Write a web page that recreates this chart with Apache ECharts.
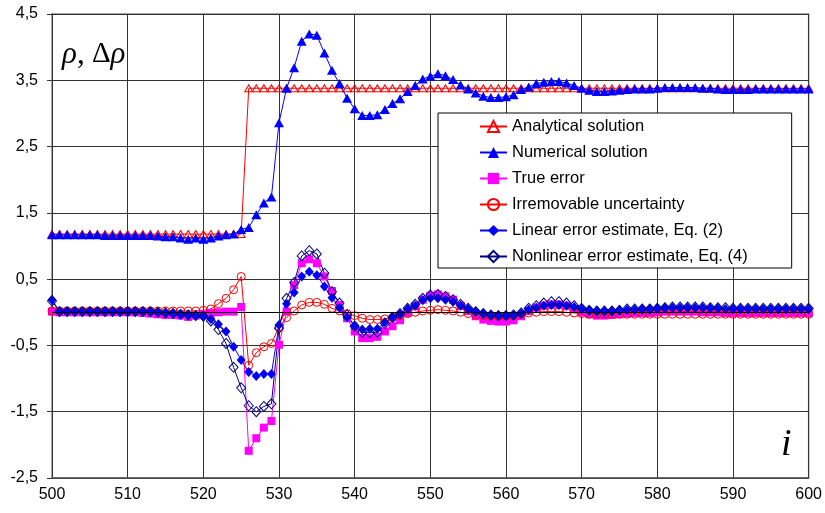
<!DOCTYPE html>
<html>
<head>
    <meta charset="utf-8">
    <title>ECharts</title>
    <script src="https://cdn.jsdelivr.net/npm/echarts@6/dist/echarts.min.js"></script>
    <style>
        body { margin: 0; background: #fff; }
    </style>
</head>
<body>
    <div id="main" style="width: 825px;height:513px;"></div>
    <script type="text/javascript">
        // i runs 500..600, one value per step
        var iStart = 500;

        var analytical = [
            1.18, 1.18, 1.18, 1.18, 1.18, 1.18, 1.18, 1.18, 1.18, 1.18,
            1.18, 1.18, 1.18, 1.18, 1.18, 1.18, 1.18, 1.18, 1.18, 1.18,
            1.18, 1.18, 1.18, 1.18, 1.18, 1.18, 3.38, 3.38, 3.38, 3.38,
            3.38, 3.38, 3.38, 3.38, 3.38, 3.38, 3.38, 3.38, 3.38, 3.38,
            3.38, 3.38, 3.38, 3.38, 3.38, 3.38, 3.38, 3.38, 3.38, 3.38,
            3.38, 3.38, 3.38, 3.38, 3.38, 3.38, 3.38, 3.38, 3.38, 3.38,
            3.38, 3.38, 3.38, 3.38, 3.38, 3.38, 3.38, 3.38, 3.38, 3.38,
            3.38, 3.38, 3.38, 3.38, 3.38, 3.38, 3.38, 3.38, 3.38, 3.38,
            3.38, 3.38, 3.38, 3.38, 3.38, 3.38, 3.38, 3.38, 3.38, 3.38,
            3.38, 3.38, 3.38, 3.38, 3.38, 3.38, 3.38, 3.38, 3.38, 3.38,
            3.38
        ];

        var numerical = [
            1.17, 1.17, 1.17, 1.17, 1.17, 1.17, 1.17, 1.16, 1.16, 1.16,
            1.16, 1.16, 1.16, 1.16, 1.15, 1.14, 1.14, 1.12, 1.10, 1.12,
            1.10, 1.12, 1.15, 1.17, 1.18, 1.25, 1.28, 1.47, 1.65, 1.74,
            2.86, 3.38, 3.69, 4.09, 4.20, 4.18, 3.91, 3.65, 3.45, 3.23,
            3.07, 2.97, 2.97, 2.98, 3.06, 3.15, 3.22, 3.33, 3.42, 3.52,
            3.56, 3.60, 3.57, 3.51, 3.43, 3.37, 3.31, 3.26, 3.24, 3.24,
            3.25, 3.28, 3.36, 3.40, 3.45, 3.47, 3.48, 3.48, 3.46, 3.42,
            3.38, 3.35, 3.33, 3.33, 3.34, 3.35, 3.36, 3.37, 3.37, 3.37,
            3.38, 3.39, 3.39, 3.39, 3.39, 3.39, 3.38, 3.38, 3.37, 3.36,
            3.36, 3.36, 3.36, 3.37, 3.37, 3.37, 3.37, 3.37, 3.37, 3.37,
            3.37
        ];

        var trueError = [
            0.01, 0.00, 0.00, 0.00, 0.00, 0.00, 0.00, 0.00, 0.00, 0.00,
            0.00, 0.00, -0.01, -0.02, -0.03, -0.04, -0.04, -0.05, -0.07, -0.05,
            -0.03, -0.01, 0.00, 0.01, 0.01, 0.08, -2.09, -1.90, -1.74, -1.64,
            -0.49, 0.01, 0.41, 0.74, 0.80, 0.74, 0.54, 0.32, 0.11, -0.09,
            -0.29, -0.39, -0.39, -0.37, -0.29, -0.21, -0.12, -0.01, 0.09, 0.19,
            0.25, 0.27, 0.24, 0.19, 0.10, 0.02, -0.06, -0.11, -0.13, -0.14,
            -0.14, -0.12, -0.06, 0.02, 0.07, 0.10, 0.12, 0.12, 0.10, 0.05,
            0.00, -0.03, -0.05, -0.05, -0.04, -0.03, -0.02, -0.01, -0.01, -0.01,
            0.00, 0.01, 0.01, 0.01, 0.01, 0.01, 0.00, 0.00, 0.00, -0.01,
            -0.01, -0.01, -0.01, -0.01, -0.01, -0.01, -0.01, -0.01, -0.01, -0.01,
            -0.01
        ];

        var irremovable = [
            0.02, 0.02, 0.02, 0.02, 0.02, 0.02, 0.02, 0.02, 0.02, 0.02,
            0.02, 0.02, 0.02, 0.02, 0.02, 0.02, 0.02, 0.02, 0.02, 0.02,
            0.03, 0.05, 0.13, 0.21, 0.34, 0.54, -0.80, -0.61, -0.52, -0.47,
            -0.22, -0.08, 0.02, 0.11, 0.15, 0.15, 0.12, 0.06, 0.02, -0.02,
            -0.05, -0.09, -0.11, -0.11, -0.10, -0.08, -0.05, -0.02, 0.00, 0.02,
            0.03, 0.04, 0.03, 0.02, 0.00, -0.02, -0.04, -0.05, -0.06, -0.06,
            -0.06, -0.05, -0.03, -0.01, 0.00, 0.01, 0.01, 0.01, 0.00, -0.01,
            -0.02, -0.03, -0.03, -0.03, -0.03, -0.03, -0.03, -0.03, -0.03, -0.03,
            -0.03, -0.03, -0.03, -0.03, -0.03, -0.03, -0.03, -0.03, -0.03, -0.03,
            -0.03, -0.03, -0.03, -0.03, -0.03, -0.03, -0.03, -0.03, -0.03, -0.03,
            -0.03
        ];

        var linearEst = [
            0.19, 0.01, 0.01, 0.01, 0.01, 0.01, 0.01, 0.01, 0.01, 0.01,
            0.01, 0.01, 0.01, 0.01, 0.00, -0.01, -0.02, -0.03, -0.04, -0.05,
            -0.06, -0.10, -0.18, -0.29, -0.52, -0.72, -0.90, -0.96, -0.93, -0.93,
            -0.19, 0.13, 0.30, 0.54, 0.61, 0.56, 0.39, 0.22, 0.07, -0.08,
            -0.20, -0.26, -0.25, -0.25, -0.15, -0.07, -0.03, 0.05, 0.10, 0.18,
            0.21, 0.21, 0.19, 0.16, 0.10, 0.05, 0.01, -0.02, -0.04, -0.05,
            -0.05, -0.04, -0.02, 0.04, 0.07, 0.10, 0.11, 0.11, 0.10, 0.08,
            0.05, 0.03, 0.02, 0.02, 0.02, 0.03, 0.04, 0.04, 0.05, 0.05,
            0.06, 0.07, 0.07, 0.07, 0.07, 0.07, 0.07, 0.06, 0.06, 0.05,
            0.05, 0.05, 0.05, 0.05, 0.05, 0.05, 0.05, 0.05, 0.05, 0.05,
            0.05
        ];

        var nonlinearEst = [
            0.17, 0.01, 0.01, 0.01, 0.01, 0.01, 0.01, 0.01, 0.01, 0.01,
            0.01, 0.01, 0.01, 0.01, 0.00, -0.01, -0.02, -0.03, -0.04, -0.05,
            -0.06, -0.13, -0.26, -0.47, -0.83, -1.14, -1.41, -1.50, -1.42, -1.38,
            -0.24, 0.21, 0.45, 0.85, 0.93, 0.88, 0.59, 0.31, 0.14, -0.04,
            -0.21, -0.30, -0.31, -0.30, -0.17, -0.08, -0.02, 0.06, 0.12, 0.21,
            0.26, 0.27, 0.24, 0.19, 0.12, 0.06, 0.01, -0.02, -0.04, -0.05,
            -0.05, -0.04, -0.01, 0.06, 0.10, 0.14, 0.16, 0.16, 0.14, 0.10,
            0.06, 0.03, 0.02, 0.02, 0.02, 0.03, 0.05, 0.05, 0.05, 0.05,
            0.06, 0.07, 0.08, 0.08, 0.08, 0.08, 0.08, 0.07, 0.07, 0.07,
            0.06, 0.06, 0.06, 0.06, 0.06, 0.06, 0.06, 0.06, 0.06, 0.06,
            0.06
        ];

        var seriesNames = [
            'Analytical solution',
            'Numerical solution',
            'True error',
            'Irremovable uncertainty',
            'Linear error estimate, Eq. (2)',
            'Nonlinear error estimate, Eq. (4)'
        ];

        function pairs(values) {
            return values.map(function (v, k) { return [iStart + k, v]; });
        }

        function lineSeries(name, values, color, symbol, size, hollow) {
            return {
                name: name,
                type: 'line',
                data: pairs(values),
                symbol: symbol,
                symbolSize: size,
                showAllSymbol: true,
                lineStyle: { color: color, width: 1 },
                itemStyle: hollow
                    ? { color: 'rgba(255,255,255,0)', borderColor: color, borderWidth: 1 }
                    : { color: color, borderColor: color, borderWidth: 0 },
                emphasis: { disabled: true },
                silent: true
            };
        }

        var myChart = echarts.init(document.getElementById('main'));

        var series = [
            lineSeries(seriesNames[0], analytical, '#ff0000', 'triangle', [8, 7], true),
            lineSeries(seriesNames[1], numerical, '#0000ff', 'triangle', [10, 9], false),
            lineSeries(seriesNames[2], trueError, '#ff00ff', 'rect', 8, false),
            lineSeries(seriesNames[3], irremovable, '#ff0000', 'circle', 8, true),
            lineSeries(seriesNames[4], linearEst, '#0000ff', 'diamond', [9, 10], false),
            lineSeries(seriesNames[5], nonlinearEst, '#000080', 'diamond', [9, 10], true)
        ];

        // horizontal line at zero (the category axis crossing)
        series[0].markLine = {
            silent: true,
            symbol: 'none',
            label: { show: false },
            lineStyle: { color: '#000', width: 1, type: 'solid' },
            data: [{ yAxis: 0 }]
        };
        series[0].z = 1;

        var option = {
            animation: false,
            title: [{
                text: '{g|\u03c1}{n|,}{d| \u0394}{g|\u03c1}',
                left: 57,
                top: 34,
                textStyle: {
                    fontWeight: 'normal',
                    rich: {
                        g: { fontFamily: 'Liberation Serif', fontStyle: 'italic', fontWeight: 'normal', fontSize: 31, color: '#000' },
                        n: { fontFamily: 'Liberation Serif', fontWeight: 'normal', fontSize: 31, color: '#000' },
                        d: { fontFamily: 'Liberation Serif', fontWeight: 'normal', fontSize: 29, color: '#000' }
                    }
                }
            }, {
                text: 'i',
                left: 776,
                top: 421,
                textStyle: { fontFamily: 'Liberation Serif', fontStyle: 'italic', fontWeight: 'normal', fontSize: 38, color: '#000' }
            }],
            legend: {
                data: seriesNames,
                orient: 'vertical',
                left: 438,
                top: 113,
                itemWidth: 27,
                itemHeight: 14,
                itemGap: 9,
                padding: [5, 44, 3, 41],
                backgroundColor: '#fff',
                borderColor: '#000',
                borderWidth: 1,
                borderRadius: 0,
                selectedMode: false,
                textStyle: { fontFamily: 'Liberation Sans', fontSize: 16.5, color: '#000' }
            },
            grid: {
                left: 52,
                right: 13,
                top: 14,
                bottom: 35,
                show: true,
                borderColor: '#888',
                borderWidth: 1.5,
                backgroundColor: '#fff'
            },
            xAxis: {
                type: 'value',
                min: 500,
                max: 600,
                interval: 10,
                axisLine: { show: true, onZero: false, lineStyle: { color: '#555', width: 1.5 } },
                axisTick: { show: false },
                splitLine: { show: true, lineStyle: { color: '#333', width: 1 } },
                axisLabel: { fontFamily: 'Liberation Sans', fontSize: 16, color: '#000', margin: 9 }
            },
            yAxis: {
                type: 'value',
                min: -2.5,
                max: 4.5,
                interval: 1,
                axisLine: { show: true, lineStyle: { color: '#333', width: 1 } },
                axisTick: { show: true, length: 5, lineStyle: { color: '#333' } },
                splitLine: { show: true, lineStyle: { color: '#333', width: 1 } },
                axisLabel: {
                    fontFamily: 'Liberation Sans',
                    fontSize: 16,
                    color: '#000',
                    margin: 14,
                    formatter: function (v) { return v.toFixed(1).replace('.', ','); }
                }
            },
            series: series
        };

        myChart.setOption(option);
    </script>
</body>
</html>
